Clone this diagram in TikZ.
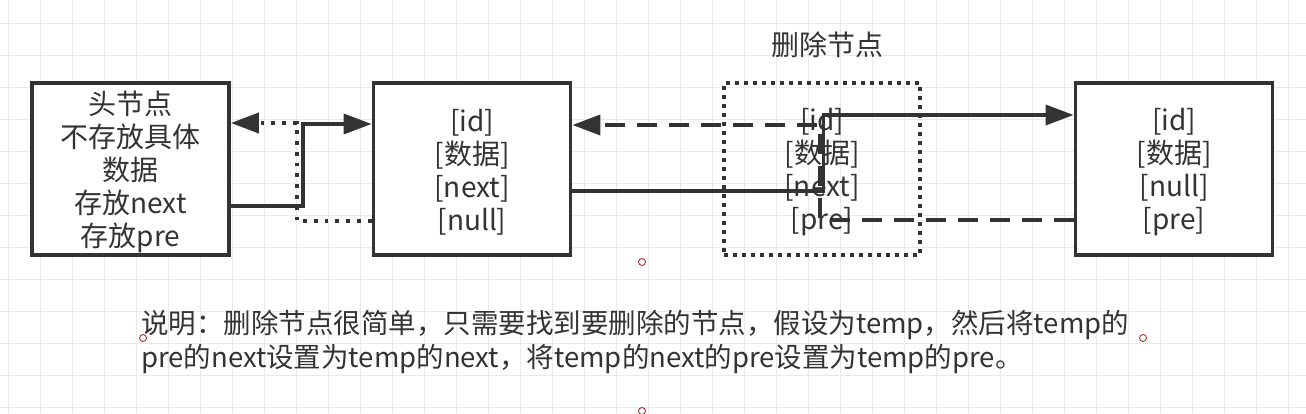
\documentclass[tikz,border=0pt]{standalone}
\usepackage{fontspec}
\newfontfamily\cjk{Noto Sans CJK SC}
\usetikzlibrary{arrows.meta}
\definecolor{ink}{RGB}{51,51,51}
\definecolor{gridc}{RGB}{233,233,233}
\definecolor{markc}{RGB}{170,50,50}
\tikzset{
  box/.style={draw=ink, line width=3.8pt, fill=white, minimum width=197pt, minimum height=172pt, inner sep=0pt},
  delbox/.style={draw=ink, line width=3.6pt, dash pattern=on 3.6pt off 5.4pt, minimum width=196pt, minimum height=172pt, inner sep=0pt},
  txt/.style={text=ink, font=\cjk\fontsize{28}{33}\selectfont, align=center, inner sep=0pt},
  ltxt/.style={text=ink, font=\cjk\fontsize{27.5}{34}\selectfont, anchor=west, inner sep=0pt},
  tip/.style={-{Triangle[length=28pt,width=20pt]}},
  solidc/.style={draw=ink, line width=3.6pt, tip},
  dotc/.style={draw=ink, line width=3.8pt, dash pattern=on 3.8pt off 7pt, tip},
  dashc/.style={draw=ink, line width=3.8pt, dash pattern=on 20pt off 12pt, tip},
  cpmark/.style={draw=markc, line width=0.9pt, circle, minimum size=7pt, inner sep=0pt}
}
\begin{document}
\begin{tikzpicture}[x=1pt,y=-1pt]
\useasboundingbox (0,0) rectangle (1306,413);
\fill[white] (0,0) rectangle (1306,413);
% grid
\foreach \gx in {8,40,...,1306} \draw[gridc, line width=0.8pt] (\gx,0) -- (\gx,413);
\foreach \gy in {23,55,...,413} \draw[gridc, line width=0.8pt] (0,\gy) -- (1306,\gy);

% boxes
\node[box] (head) at (130.5,169) {};
\node[box] (n2) at (472,169) {};
\node[delbox] (n3) at (822,169) {};
\node[box] (n4) at (1174,169) {};

% connectors
\draw[solidc] ([yshift=-37pt]head.east) -- ++(72,0) |- ([yshift=45pt]n2.west);
\draw[dotc] ([yshift=-52pt]n2.west) -- ++(-75,0) |- ([yshift=46pt]head.east);
\draw[solidc] ([yshift=-22pt]n2.east) -- ++(251,0) |- ([yshift=54pt]n4.west);
\draw[dashc] ([yshift=-51pt]n4.west) -- ++(-254,0) |- ([yshift=44pt]n2.east);

% texts
\node[txt] (headtxt) at (130.5,172) {头节点\\不存放具体\\数据\\存放next\\存放pre};
\node[txt] (n2txt) at (472,172) {[id]\\{}[数据]\\{}[next]\\{}[null]};
\node[txt] (n3txt) at (822,172) {[id]\\{}[数据]\\{}[next]\\{}[pre]};
\node[txt] (n4txt) at (1174,172) {[id]\\{}[数据]\\{}[null]\\{}[pre]};
\node[txt] (title) at (827,45) {删除节点};
\node[ltxt] (desc1) at (141,325) {说明：删除节点很简单，只需要找到要删除的节点，假设为temp，然后将temp的};
\node[ltxt] (desc2) at (141,359) {pre的next设置为temp的next，将temp的next的pre设置为temp的pre。};

% connection markers
\node[cpmark] (m1) at (642,262) {};
\node[cpmark] (m2) at (143,338) {};
\node[cpmark] (m3) at (1143,338) {};
\node[cpmark] (m4) at (642,411) {};
\end{tikzpicture}
\end{document}
